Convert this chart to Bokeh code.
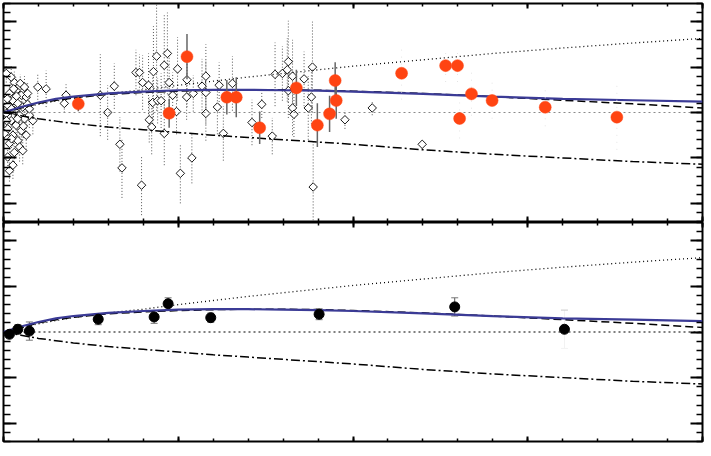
from bokeh.plotting import figure
from bokeh.layouts import column
from bokeh.models import (FixedTicker, LinearAxis, Range1d, ColumnDataSource, Whisker, TeeHead,
                          CustomJSTickFormatter)
from bokeh.embed import file_html
from bokeh.resources import INLINE

# ---------------- data ----------------
x_major = [0.0, 0.5, 1.0, 1.5, 2.0]
x_minor = [i / 10 for i in range(21)]
y_major = [-1.0, -0.5, 0.0, 0.5, 1.0]
y_minor = [round(-1.2 + i / 10, 2) for i in range(25)]

# model curves
model_z = [0, 0.05, 0.1, 0.15, 0.2, 0.3, 0.4, 0.5, 0.6, 0.7, 0.8, 0.9, 1.0, 1.2, 1.4, 1.6, 1.8, 2.0]
model_blue = [0, 0.06, 0.11, 0.15, 0.175, 0.21, 0.23, 0.245, 0.25, 0.25, 0.245, 0.24, 0.23, 0.205, 0.175, 0.15, 0.135, 0.12]
model_dashed = [0, 0.05, 0.10, 0.135, 0.16, 0.20, 0.22, 0.235, 0.245, 0.25, 0.25, 0.245, 0.235, 0.21, 0.175, 0.135, 0.095, 0.05]
model_dotted = [0, 0.045, 0.09, 0.125, 0.16, 0.21, 0.25, 0.30, 0.345, 0.39, 0.43, 0.47, 0.51, 0.58, 0.65, 0.71, 0.765, 0.815]
model_dashdot = [0, -0.035, -0.07, -0.095, -0.12, -0.16, -0.19, -0.22, -0.25, -0.275, -0.30, -0.325, -0.35, -0.41, -0.46, -0.50, -0.54, -0.57]
zero_z = [0.0, 2.0]
zero_y = [0.0, 0.0]

# ground-based SNe (open diamonds)
gz = [0.031, 0.048, 0.060, 0.036, 0.017, 0.051, 0.065, 0.027, 0.041, 0.012, 0.055, 0.031, 0.008, 0.046,
      0.060, 0.022, 0.084, 0.036, 0.012, 0.051, 0.027, 0.041, 0.017, 0.046, 0.031, 0.012, 0.027, 0.017,
      0.008, 0.022, 0.074, 0.069, 0.003, 0.003, 0.065, 0.055, 0.023, 0.040, 0.011, 0.069, 0.029, 0.057,
      0.009, 0.037, 0.074, 0.023,
      0.098, 0.122, 0.179, 0.174, 0.277, 0.298, 0.317, 0.333, 0.339, 0.395, 0.379, 0.389, 0.398, 0.415,
      0.429, 0.438, 0.460, 0.469, 0.474, 0.498, 0.525, 0.524, 0.427, 0.441, 0.451, 0.417, 0.424, 0.460,
      0.495, 0.506, 0.539, 0.579, 0.568, 0.579, 0.579, 0.617, 0.612, 0.629, 0.655, 0.543, 0.484, 0.739,
      0.711, 0.769, 0.777, 0.798, 0.812, 0.815, 0.827, 0.815, 0.827, 0.831, 0.860, 0.884, 0.881, 0.872,
      0.886, 0.977, 1.055, 1.198]
gdm = [0.33, 0.32, 0.28, 0.24, 0.21, 0.19, 0.17, 0.13, 0.10, 0.08, 0.06, 0.02, -0.01, -0.03,
       -0.07, -0.09, -0.09, -0.14, -0.18, -0.20, -0.25, -0.31, -0.34, -0.38, -0.44, -0.49, -0.58, -0.64,
       0.43, 0.39, -0.03, 0.21, 0.13, -0.23, -0.25, -0.42, 0.04, -0.07, 0.15, 0.09, 0.26, -0.15,
       -0.09, 0.18, 0.04, -0.29,
       0.28, 0.26, 0.19, 0.10, 0.19, 0.00, 0.29, -0.35, -0.61, -0.80, 0.44, 0.44, 0.33, 0.30,
       0.45, 0.62, 0.52, 0.65, 0.33, 0.48, 0.36, 0.17, 0.11, 0.13, 0.13, -0.08, -0.16, -0.23,
       0.01, -0.67, -0.50, 0.40, 0.29, 0.22, -0.01, 0.30, 0.06, -0.23, 0.32, 0.21, 0.19, 0.09,
       -0.11, -0.26, 0.42, 0.43, 0.47, 0.56, 0.40, 0.24, 0.05, -0.02, 0.37, 0.50, 0.17, 0.05,
       -0.82, -0.08, 0.05, -0.35]
gerr = [0.12, 0.10, 0.12, 0.15, 0.10, 0.14, 0.16, 0.12, 0.10, 0.08, 0.15, 0.10, 0.08, 0.12,
        0.16, 0.10, 0.15, 0.12, 0.08, 0.14, 0.12, 0.15, 0.10, 0.16, 0.14, 0.10, 0.15, 0.12,
        0.10, 0.12, 0.14, 0.13, 0.06, 0.06, 0.16, 0.15, 0.08, 0.10, 0.08, 0.12, 0.10, 0.13,
        0.07, 0.10, 0.12, 0.10,
        0.14, 0.20, 0.12, 0.10, 0.45, 0.30, 0.25, 0.30, 0.33, 0.33, 0.25, 0.20, 0.30, 0.35,
        0.50, 0.60, 0.55, 0.45, 0.30, 0.35, 0.30, 0.25, 0.30, 0.25, 0.30, 0.25, 0.30, 0.35,
        0.25, 0.33, 0.28, 0.35, 0.30, 0.35, 0.30, 0.25, 0.30, 0.30, 0.30, 0.20, 0.25, 0.15,
        0.25, 0.20, 0.35, 0.30, 0.35, 0.45, 0.40, 0.30, 0.30, 0.25, 0.30, 0.50, 0.30, 0.35,
        0.50, 0.10, 0.08, 0.05]

# HST-discovered SNe (red filled circles)
hz = [0.214, 0.474, 0.525, 0.639, 0.666, 0.733, 0.838, 0.898, 0.933, 0.949, 0.952,
      1.139, 1.265, 1.299, 1.305, 1.339, 1.398, 1.550, 1.755]
hdm = [0.095, -0.008, 0.615, 0.168, 0.168, -0.168, 0.271, -0.139, -0.015, 0.352, 0.132,
       0.432, 0.516, 0.516, -0.066, 0.205, 0.132, 0.058, -0.051]
herr = [0.08, 0.16, 0.25, 0.19, 0.22, 0.18, 0.20, 0.24, 0.20, 0.20, 0.20,
        0.29, 0.18, 0.18, 0.22, 0.24, 0.20, 0.21, 0.36]

# binned data (bottom panel)
bz = [0.017, 0.041, 0.074, 0.271, 0.431, 0.471, 0.593, 0.903, 1.291, 1.605]
bdm = [-0.025, 0.03, 0.01, 0.14, 0.165, 0.31, 0.157, 0.195, 0.275, 0.03]
berr = [0.03, 0.05, 0.10, 0.06, 0.07, 0.065, 0.05, 0.06, 0.10, 0.21]

# ---------------- helpers ----------------
BLUE = "#3b3b96"
RED = "#ff4412"


def style_axis(ax, major_in, minor_in):
    ax.axis_line_color = None
    ax.major_tick_in = major_in
    ax.major_tick_out = 0
    ax.minor_tick_in = minor_in
    ax.minor_tick_out = 0
    ax.major_tick_line_width = 2
    ax.minor_tick_line_width = 1.5
    ax.major_tick_line_color = "black"
    ax.minor_tick_line_color = "black"
    ax.major_label_text_font_size = "0px"
    ax.major_label_standoff = 0
    ax.formatter = CustomJSTickFormatter(code="return ''")


def make_panel(height, mtop, mbottom):
    p = figure(width=704, height=height, x_range=Range1d(0, 2), y_range=Range1d(-1.2, 1.2),
               output_backend="svg", toolbar_location=None,
               x_axis_location=None, y_axis_location=None,
               min_border_left=3, min_border_right=2, min_border_top=mtop, min_border_bottom=mbottom)
    p.grid.visible = False
    p.outline_line_color = "black"
    p.outline_line_width = 2
    p.background_fill_color = "white"
    p.border_fill_color = "white"
    for loc in ("below", "above"):
        ax = LinearAxis(ticker=FixedTicker(ticks=x_major, minor_ticks=x_minor))
        p.add_layout(ax, loc)
        style_axis(ax, 5, 3)
    for loc, mj, mn in (("left", 13, 7), ("right", 12, 6)):
        ax = LinearAxis(ticker=FixedTicker(ticks=y_major, minor_ticks=y_minor))
        p.add_layout(ax, loc)
        style_axis(ax, mj, mn)
    return p


def add_models(p, zero_color):
    p.line(zero_z, zero_y, line_color=zero_color, line_dash="2 3", line_width=1.2)
    p.line(model_z, model_dotted, line_color="black", line_dash="1 3", line_width=1.3)
    p.line(model_z, model_dashdot, line_color="black", line_dash="9 3 2 3", line_width=1.5)
    p.line(model_z, model_dashed, line_color="black", line_dash="8 4", line_width=1.5)
    p.line(model_z, model_blue, line_color=BLUE, line_width=2.2)


def err_source(zs, ms, es, keep):
    idx = [i for i, z in enumerate(zs) if keep(z)]
    return ColumnDataSource(dict(z=[zs[i] for i in idx], dm=[ms[i] for i in idx],
                                 lo=[ms[i] - es[i] for i in idx],
                                 hi=[ms[i] + es[i] for i in idx]))


# ---------------- top panel ----------------
top = make_panel(222, 3, 1)
gsrc = err_source(gz, gdm, gerr, lambda z: True)
top.segment(x0="z", y0="lo", x1="z", y1="hi", source=gsrc,
            line_color="#555555", line_dash="1 2", line_width=1)
top.scatter(x="z", y="dm", source=gsrc, marker="square", angle=0.785398, size=6,
            fill_color="white", line_color="black", line_width=0.9)
add_models(top, "#8a8a8a")

hnear = err_source(hz, hdm, herr, lambda z: z < 1.0)
hfar = err_source(hz, hdm, herr, lambda z: z >= 1.0)
top.segment(x0="z", y0="lo", x1="z", y1="hi", source=hnear, line_color="#666666", line_width=1.5)
top.segment(x0="z", y0="lo", x1="z", y1="hi", source=hfar, line_color="#e4e4e4", line_width=1,
            line_dash="1 6")
hall = err_source(hz, hdm, herr, lambda z: True)
top.scatter(x="z", y="dm", source=hall, marker="circle", size=12,
            fill_color=RED, line_color=RED, line_width=0.5)

# ---------------- bottom panel ----------------
bot = make_panel(221, 0, 2)
add_models(bot, "black")
bnear = err_source(bz, bdm, berr, lambda z: z < 1.5)
bfar = err_source(bz, bdm, berr, lambda z: z >= 1.5)
bot.add_layout(Whisker(base="z", lower="lo", upper="hi", source=bnear, dimension="height",
                       line_color="#555555", line_width=1,
                       upper_head=TeeHead(size=7, line_color="#777777", line_width=1),
                       lower_head=TeeHead(size=7, line_color="#777777", line_width=1)))
bot.add_layout(Whisker(base="z", lower="lo", upper="hi", source=bfar, dimension="height",
                       line_color="#f2f2f2", line_width=1,
                       upper_head=TeeHead(size=7, line_color="#c8c8c8", line_width=1),
                       lower_head=TeeHead(size=7, line_color="#f2f2f2", line_width=1)))
ball = err_source(bz, bdm, berr, lambda z: True)
bot.scatter(x="z", y="dm", source=ball, marker="circle", size=10,
            fill_color="black", line_color="black")

layout = column(top, bot, spacing=0)

open("out.html", "w").write(file_html(layout, INLINE))
